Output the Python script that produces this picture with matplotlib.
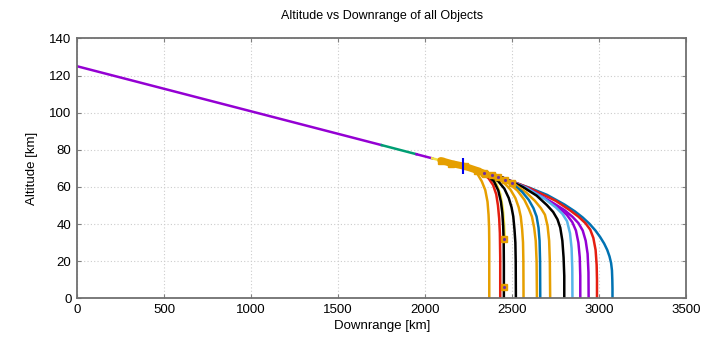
import matplotlib.pyplot as plt

plt.rcParams['font.family'] = ['Liberation Sans', 'DejaVu Sans']

# shared trajectory before breakup
main_x = [0, 1750]
main_y = [125, 82.5]
green_x = [1750, 1950]
green_y = [82.5, 77.6]
main2_x = [1950, 2040]
main2_y = [77.6, 75.4]
yellow_x = [2040, 2090]
yellow_y = [75.4, 74.2]
blob_x = [2090, 2150, 2230, 2300, 2345]
blob_y = [74.2, 72.6, 71.0, 68.8, 67.0]

# fragments after breakup
frag_orange1_x = [2150, 2259, 2300, 2325, 2345, 2358, 2364, 2367, 2368, 2368]
frag_orange1_y = [72.5, 70, 67, 63, 58.3, 52, 45, 38, 30, 0]
frag_red1_x = [2250, 2330, 2365, 2390, 2408, 2418, 2425, 2429, 2431, 2431]
frag_red1_y = [71, 67.5, 64.5, 61, 56, 50, 43, 35, 22, 0]
frag_yellow_x = [2300, 2380, 2410, 2432, 2446, 2453, 2457]
frag_yellow_y = [69, 65, 61.5, 56, 48, 40, 32]
frag_black1_x = [2290, 2360, 2395, 2420, 2435, 2443, 2448, 2451, 2452, 2452]
frag_black1_y = [69.5, 66, 63, 58, 52, 46, 39, 30, 18, 0]
frag_black2_x = [2330, 2420, 2455, 2480, 2496, 2506, 2513, 2518, 2520, 2521]
frag_black2_y = [68, 63, 59, 54, 49, 44, 37, 30, 20, 0]
frag_orange2_x = [2350, 2450, 2490, 2518, 2537, 2549, 2557, 2562, 2564, 2565]
frag_orange2_y = [67.5, 62.5, 58.5, 54, 49, 44, 37, 30, 20, 0]
frag_orange3_x = [2380, 2480, 2530, 2570, 2596, 2613, 2626, 2635, 2640, 2642]
frag_orange3_y = [67, 62, 58, 53, 48, 44, 38, 31, 20, 0]
frag_blue1_x = [2400, 2500, 2555, 2595, 2622, 2640, 2651, 2657, 2660, 2661]
frag_blue1_y = [66.5, 61.8, 57.5, 53, 48.5, 44, 38, 31, 20, 0]
frag_orange4_x = [2410, 2520, 2580, 2630, 2665, 2688, 2703, 2712, 2716, 2718]
frag_orange4_y = [66.3, 61, 57, 52.5, 48.5, 45, 39, 31, 20, 0]
frag_black3_x = [2440, 2560, 2640, 2699, 2735, 2760, 2776, 2788, 2795, 2799, 2799]
frag_black3_y = [65.2, 60, 55.3, 50.2, 46.5, 42.5, 38, 31, 22, 12, 0]
frag_lblue_x = [2450, 2580, 2680, 2750, 2788, 2815, 2832, 2841, 2845, 2846]
frag_lblue_y = [64.8, 59.5, 54, 49, 45.5, 41.5, 35, 27, 16, 0]
frag_purple1_x = [2450, 2590, 2700, 2770, 2814, 2845, 2866, 2880, 2888, 2891, 2891]
frag_purple1_y = [64.8, 59, 53, 48.5, 44.9, 41, 36.5, 30, 22, 12, 0]
frag_purple2_x = [2450, 2584, 2737, 2800, 2845, 2880, 2905, 2922, 2933, 2938, 2939]
frag_purple2_y = [64.8, 59.4, 51.2, 47.5, 44, 40.5, 36.5, 31, 24, 14, 0]
frag_red2_x = [2450, 2600, 2750, 2830, 2880, 2920, 2948, 2966, 2979, 2985, 2987, 2987]
frag_red2_y = [64.8, 59.3, 52.5, 47.5, 44, 40.5, 37, 32.5, 26, 18, 10, 0]
frag_blue2_x = [2200, 2300, 2400, 2500, 2600, 2700, 2800, 2860, 2905, 2945, 2978, 3005,
                3028, 3046, 3059, 3068, 3073, 3075, 3076, 3076]
frag_blue2_y = [71.5, 68.5, 66, 62.8, 59.5, 55.7, 50.5, 46.8, 43.5, 40, 36.5, 33,
                29.5, 26, 22.5, 19, 15, 10, 5, 0]

# square markers
sq_x = [2335, 2383, 2421, 2460, 2498, 2452, 2452]
sq_y = [67.6, 66.4, 65.5, 63.7, 62.3, 31.8, 6.2]

purple = '#9400D3'
green = '#009E73'
lblue = '#56B4E9'
orange = '#E69F00'
yellow = '#F0E442'
blue = '#0072B2'
red = '#E51E10'
black = '#000000'

fig = plt.figure(figsize=(7.01, 3.37), dpi=100)
ax = fig.add_axes([0.110, 0.115, 0.869, 0.771])

lw = 1.8
ax.plot(main_x, main_y, color=purple, lw=lw)
ax.plot(green_x, green_y, color=green, lw=lw)
ax.plot(main2_x, main2_y, color=purple, lw=lw)
ax.plot(yellow_x, yellow_y, color=yellow, lw=lw)

ax.plot(frag_blue2_x, frag_blue2_y, color=blue, lw=lw)
ax.plot(frag_red2_x, frag_red2_y, color=red, lw=lw)
ax.plot(frag_purple2_x, frag_purple2_y, color=purple, lw=lw)
ax.plot(frag_purple1_x, frag_purple1_y, color=purple, lw=lw)
ax.plot(frag_lblue_x, frag_lblue_y, color=lblue, lw=lw)
ax.plot(frag_black3_x, frag_black3_y, color=black, lw=lw)
ax.plot(frag_orange4_x, frag_orange4_y, color=orange, lw=lw)
ax.plot(frag_blue1_x, frag_blue1_y, color=blue, lw=lw)
ax.plot(frag_orange3_x, frag_orange3_y, color=orange, lw=lw)
ax.plot(frag_orange2_x, frag_orange2_y, color=orange, lw=lw)
ax.plot(frag_black2_x, frag_black2_y, color=black, lw=lw)
ax.plot(frag_yellow_x, frag_yellow_y, color=yellow, lw=lw)
ax.plot(frag_red1_x, frag_red1_y, color=red, lw=lw)
ax.plot(frag_black1_x, frag_black1_y, color=black, lw=lw)
ax.plot(frag_orange1_x, frag_orange1_y, color=orange, lw=lw)

ax.plot(blob_x, blob_y, color=orange, lw=5, solid_capstyle='round')
ax.plot(blob_x, blob_y, 's', color=orange, ms=4)
ax.plot([2220], [71], '|', color='#0000EE', ms=11, mew=1.5)
ax.plot(sq_x, sq_y, 's', color=orange, ms=5)
ax.plot(sq_x, sq_y, '.', color='#7030A0', ms=2.5)

ax.set_xlim(0, 3500)
ax.set_ylim(0, 140)
ax.set_xticks(range(0, 3501, 500))
ax.set_yticks(range(0, 141, 20))
ax.grid(True, color='#cccccc', ls=(0, (1, 2)), lw=0.8)
ax.tick_params(direction='in', length=3, color='#808080', labelsize=9.5,
               top=True, right=True, pad=4)
for s in ax.spines.values():
    s.set_color('#707070')
    s.set_linewidth(1.3)

ax.set_title('Altitude vs Downrange of all Objects', fontsize=9, pad=14)
ax.set_xlabel('Downrange [km]', fontsize=9.5, labelpad=3)
ax.set_ylabel('Altitude [km]', fontsize=9.5, labelpad=8)

fig.savefig('out.png', dpi=100)
